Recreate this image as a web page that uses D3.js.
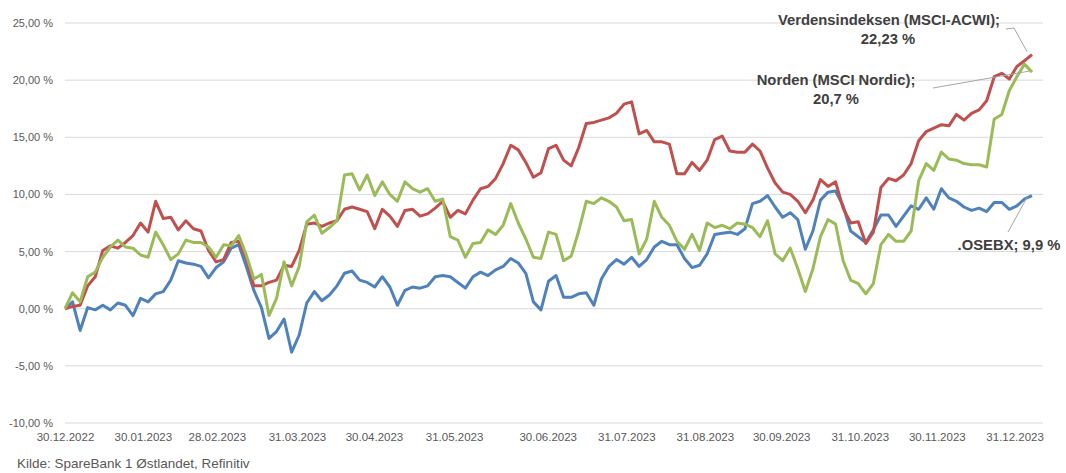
<!DOCTYPE html>
<html>
<head>
<meta charset="utf-8">
<script src="https://cdn.jsdelivr.net/npm/d3@7"></script>
<style>
body { margin: 0; background: #fff; }
text { font-family: "Liberation Sans", Arial, sans-serif; }
</style>
</head>
<body>
<svg id="chart" width="1066" height="473"></svg>
<script>
// values in %, one point about every second trading day
var osebx = [0,0.6,-1.9,0.1,-0.1,0.3,-0.1,0.5,0.3,-0.6,0.9,0.6,1.3,1.5,2.5,4.2,4.0,3.9,3.7,2.7,3.6,4.1,5.3,5.6,3.7,1.6,0.1,-2.6,-2.0,-0.9,-3.8,-2.3,0.5,
  1.5,0.7,1.2,2.0,3.1,3.3,2.5,2.3,1.9,2.8,1.9,0.3,1.6,1.9,1.8,2.0,2.8,2.9,2.8,2.3,1.8,2.8,3.2,2.9,3.4,3.7,4.4,4.0,3.1,0.6,-0.1,
  2.4,2.9,1.0,1.0,1.3,1.4,0.3,2.6,3.7,4.3,3.9,4.5,3.7,4.3,5.4,5.9,5.6,5.6,4.4,3.6,3.8,4.8,6.5,6.6,6.7,6.5,7.0,9.2,9.4,9.9,8.9,8.0,
  8.4,7.8,5.2,6.8,9.5,10.2,10.3,9.0,6.8,6.3,5.8,6.9,8.2,8.2,7.2,8.1,9.0,8.7,9.7,8.7,10.5,9.7,9.4,8.9,8.6,8.8,8.5,9.3,9.3,8.7,9.0,9.6,9.9]
var nordic = [0,1.4,0.6,2.8,3.2,4.5,5.4,6.0,5.4,5.3,4.7,4.5,6.7,5.6,4.3,4.8,6.0,5.8,5.8,5.4,4.5,5.6,5.5,6.4,4.7,2.6,3.0,-0.6,0.9,4.1,2.0,3.7,7.6,
  8.2,6.6,7.1,7.7,11.7,11.8,10.4,11.7,9.9,11.1,10.0,9.4,11.1,10.5,10.2,10.5,9.4,9.6,6.3,6.0,4.5,5.7,5.8,6.9,6.5,7.3,9.2,7.5,6.1,4.5,4.4,
  6.7,6.5,4.2,4.6,6.8,9.4,9.2,9.7,9.4,8.9,7.7,7.8,4.8,6.1,9.4,8.0,7.3,5.9,5.2,6.5,5.1,7.5,7.1,7.3,7.0,7.5,7.4,7.1,6.3,7.7,4.8,4.2,
  5.3,3.5,1.5,3.5,6.3,7.8,7.4,4.2,2.5,2.2,1.3,2.2,5.6,6.5,5.9,5.9,6.8,11.2,12.7,12.1,13.7,13.1,13.0,12.7,12.6,12.6,12.4,16.6,17.0,19.1,20.3,21.4,20.7]
var acwi = [0,0.2,0.3,2.0,2.8,5.1,5.5,5.3,5.8,6.4,7.5,6.7,9.4,7.9,8.0,6.9,7.7,7.0,6.8,5.1,4.1,4.3,5.8,5.9,4.4,2.0,2.0,2.3,2.5,3.8,3.7,5.1,7.4,
  7.5,7.2,7.5,7.7,8.7,8.9,8.7,8.5,7.0,8.7,8.1,7.2,8.6,8.7,8.1,8.3,8.8,9.4,8.0,8.6,8.3,9.5,10.5,10.7,11.4,12.7,14.3,13.9,12.8,11.5,11.9,
  14.0,14.3,13.0,12.5,14.1,16.2,16.3,16.5,16.7,17.1,17.9,18.1,15.3,15.6,14.6,14.6,14.4,11.8,11.8,12.8,12.1,13.0,14.8,15.1,13.8,13.7,13.7,14.4,13.8,12.3,11.0,10.2,
  10.0,9.4,8.4,9.5,11.3,10.7,11.1,8.8,7.5,7.6,5.7,6.7,10.6,11.4,11.2,11.7,12.7,14.7,15.5,15.8,16.1,16.0,17.0,16.5,17.1,17.4,18.2,20.3,20.6,20.1,21.2,21.7,22.23]

var tickLabels = ["30.12.2022","30.01.2023","28.02.2023","31.03.2023","30.04.2023","31.05.2023","30.06.2023",
  "31.07.2023","31.08.2023","30.09.2023","31.10.2023","30.11.2023","31.12.2023"]
var tickIdx = [0,10.3,20.1,30.7,40.9,51.5,63.9,74.3,84.7,94.8,105.2,115.4,125.7]
var yTicks = [-10,-5,0,5,10,15,20,25]

var svg = d3.select("#chart")
var xScale = d3.scaleLinear().domain([0, osebx.length-1]).range([65, 1032])
var yScale = d3.scaleLinear().domain([-10, 25]).range([423, 23])
var fmt = function(v){ return v.toFixed(2).replace(".", ",") + " %" }

// grid
svg.append("g")
  .selectAll("line")
  .data(yTicks)
  .enter()
  .append("line")
  .attr("x1", 65).attr("x2", 1043)
  .attr("y1", function(d){return yScale(d)})
  .attr("y2", function(d){return yScale(d)})
  .attr("stroke", "#d9d9d9")
  .attr("stroke-width", 1)

var yAxis = d3.axisLeft(yScale).tickValues(yTicks).tickFormat(fmt).tickSize(0).tickPadding(12)
var ya = svg.append("g").attr("transform", "translate(65,0)").call(yAxis)
ya.select(".domain").remove()
ya.selectAll("text").attr("fill", "#595959").style("font-size", "11px")

var xAxis = d3.axisBottom(xScale).tickValues(tickIdx)
  .tickFormat(function(d, i){return tickLabels[i]}).tickSize(0).tickPadding(10)
var xa = svg.append("g").attr("transform", "translate(0,423)").call(xAxis)
xa.select(".domain").remove()
xa.selectAll("text").attr("fill", "#595959").style("font-size", "11.5px")

var line = d3.line()
  .x(function(d, i){return xScale(i)})
  .y(function(d){return yScale(d)})

var series = [
  {name: "osebx", values: osebx, color: "#4f81bd"},
  {name: "acwi", values: acwi, color: "#c0504d"},
  {name: "nordic", values: nordic, color: "#9bbb59"}
]
svg.append("g").selectAll("path")
  .data(series)
  .enter()
  .append("path")
  .attr("d", function(s){return line(s.values)})
  .attr("fill", "none")
  .attr("stroke", function(s){return s.color})
  .attr("stroke-width", 3)
  .attr("stroke-linejoin", "round")

// labels at the end of each line
var last = osebx.length-1
var lab = svg.append("g").attr("fill", "#404040").style("font-weight", "bold").style("font-size", "14.8px")
lab.append("text").attr("x", 889).attr("y", 25).attr("text-anchor", "middle").text("Verdensindeksen (MSCI-ACWI);")
lab.append("text").attr("x", 888).attr("y", 44).attr("text-anchor", "middle").text("22,23 %")
lab.append("text").attr("x", 836).attr("y", 85).attr("text-anchor", "middle").text("Norden (MSCI Nordic);")
lab.append("text").attr("x", 836).attr("y", 104).attr("text-anchor", "middle").text("20,7 %")
lab.append("text").attr("x", 1009).attr("y", 250).attr("text-anchor", "middle").text(".OSEBX; 9,9 %")

var lead = svg.append("g").attr("stroke", "#a6a6a6").attr("fill", "none").attr("stroke-width", 1)
lead.append("polyline").attr("points", [[1006,29],[1014,28],[xScale(last)-5, yScale(acwi[last])-3]].join(" "))
lead.append("polyline").attr("points", [[933,88],[xScale(last)-3, yScale(nordic[last])-1]].join(" "))
lead.append("polyline").attr("points", [[1008,232],[xScale(last)-5, yScale(osebx[last])+2]].join(" "))

svg.append("text").attr("x", 17).attr("y", 468).attr("fill", "#595959").style("font-size", "13.5px")
  .text("Kilde: SpareBank 1 Østlandet, Refinitiv")
</script>
</body>
</html>
